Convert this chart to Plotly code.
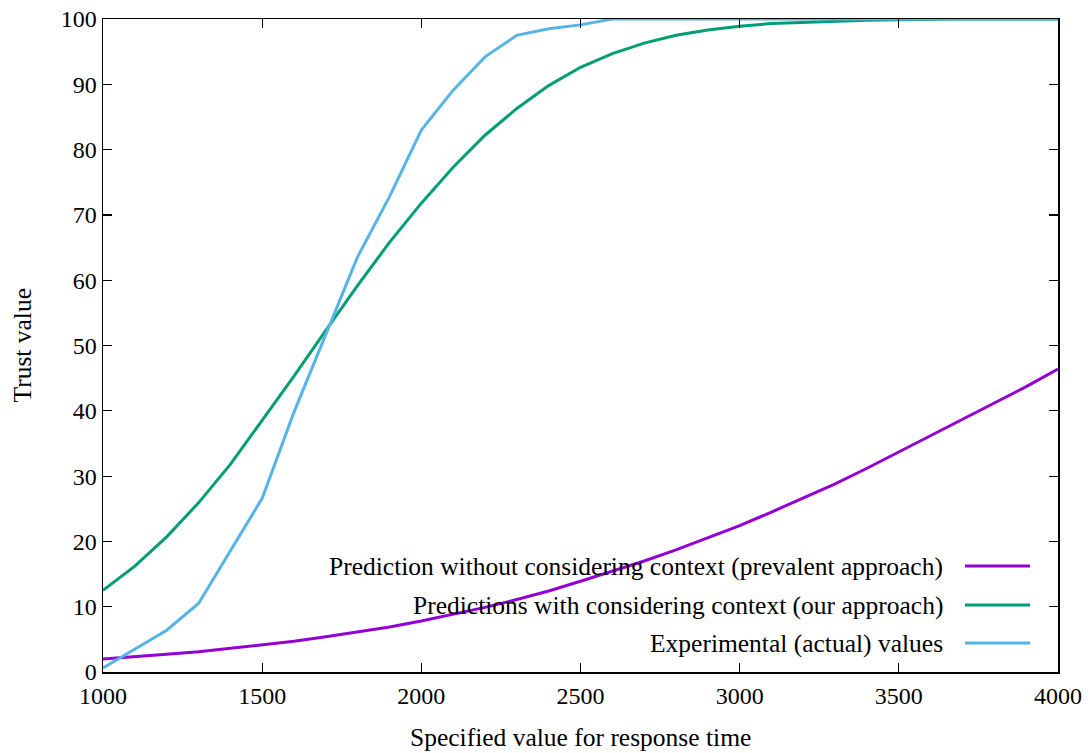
import plotly.graph_objects as go

# ---- data ----
x_vals = list(range(1000, 4001, 100))

prevalent = [2.0, 2.3, 2.7, 3.1, 3.6, 4.1, 4.7, 5.4, 6.1, 6.9,
             7.8, 8.8, 9.9, 11.1, 12.4, 13.9, 15.4, 17.0, 18.7, 20.5,
             22.4, 24.5, 26.6, 28.8, 31.2, 33.7, 36.1, 38.6, 41.1, 43.7, 46.4]

our_approach = [12.5, 16.2, 20.7, 25.9, 31.8, 38.5, 45.3, 52.3, 59.2, 65.8,
                71.8, 77.3, 82.2, 86.3, 89.8, 92.6, 94.7, 96.3, 97.5, 98.3,
                98.9, 99.3, 99.5, 99.7, 99.8, 99.9, 100, 100, 100, 100, 100]

experimental = [0.6, 3.5, 6.4, 10.5, 18.5, 26.6, 39.8, 51.6, 63.6, 72.8,
                83.0, 89.1, 94.2, 97.5, 98.5, 99.1, 100, 100, 100, 100,
                100, 100, 100, 100, 100, 100, 100, 100, 100, 100, 100]

series_names = ["Prediction without considering context (prevalent approach)",
                "Predictions with considering context (our approach)",
                "Experimental (actual) values"]
series_colors = ["#9400d3", "#009e73", "#56b4e9"]
series_values = [prevalent, our_approach, experimental]

x_ticks = [1000, 1500, 2000, 2500, 3000, 3500, 4000]
y_ticks = list(range(0, 101, 10))

x_title = "Specified value for response time"
y_title = "Trust value"

FONT = "Liberation Serif, Times New Roman, serif"
FS_TEXT = 25.5
FS_TICK = 24

fig = go.Figure()
for name, color, vals in zip(series_names, series_colors, series_values):
    fig.add_trace(go.Scatter(x=x_vals, y=vals, mode="lines", name=name,
                             line=dict(color=color, width=3), showlegend=False))

axis_common = dict(showgrid=False, zeroline=False, showline=True, linecolor="black",
                   linewidth=1.5, mirror="ticks", ticks="inside", ticklen=9,
                   tickwidth=1.2, tickcolor="black", automargin=False,
                   ticklabeloverflow="allow",
                   tickfont=dict(family=FONT, size=FS_TICK, color="black"))

fig.update_xaxes(range=[1000, 4000], tickvals=x_ticks, ticklabelstandoff=2, **axis_common)
fig.update_yaxes(range=[0, 100], tickvals=y_ticks, ticklabelstandoff=0, **axis_common)

# axis titles
fig.add_annotation(text=x_title, xref="paper", yref="paper", x=0.5, y=-0.101,
                   showarrow=False, xanchor="center", yanchor="middle",
                   font=dict(family=FONT, size=FS_TEXT, color="black"))
fig.add_annotation(text=y_title, xref="paper", yref="paper", x=-0.0848, y=0.5,
                   showarrow=False, textangle=-90, xanchor="center", yanchor="middle",
                   font=dict(family=FONT, size=FS_TEXT, color="black"))

# gnuplot-style key: text right-aligned, sample line on the right
key_rows_y = [0.1623, 0.1026, 0.0444]
for name, color, ky in zip(series_names, series_colors, key_rows_y):
    fig.add_annotation(text=name, xref="paper", yref="paper", x=0.8817, y=ky,
                       showarrow=False, xanchor="right", yanchor="middle",
                       font=dict(family=FONT, size=FS_TEXT, color="black"))
    fig.add_shape(type="line", xref="paper", yref="paper", x0=0.9026, x1=0.9707,
                  y0=ky, y1=ky, line=dict(color=color, width=3))

fig.update_layout(width=1090, height=753, plot_bgcolor="white", paper_bgcolor="white",
                  margin=dict(l=103, r=32, t=19, b=81, autoexpand=False), showlegend=False,
                  hovermode=False)

# remove the default 8px page margin so the figure fills the window exactly
fig.write_html("out.html", config={"displayModeBar": False, "staticPlot": True},
               post_script="document.body.style.margin='0';document.body.style.overflow='hidden';")
